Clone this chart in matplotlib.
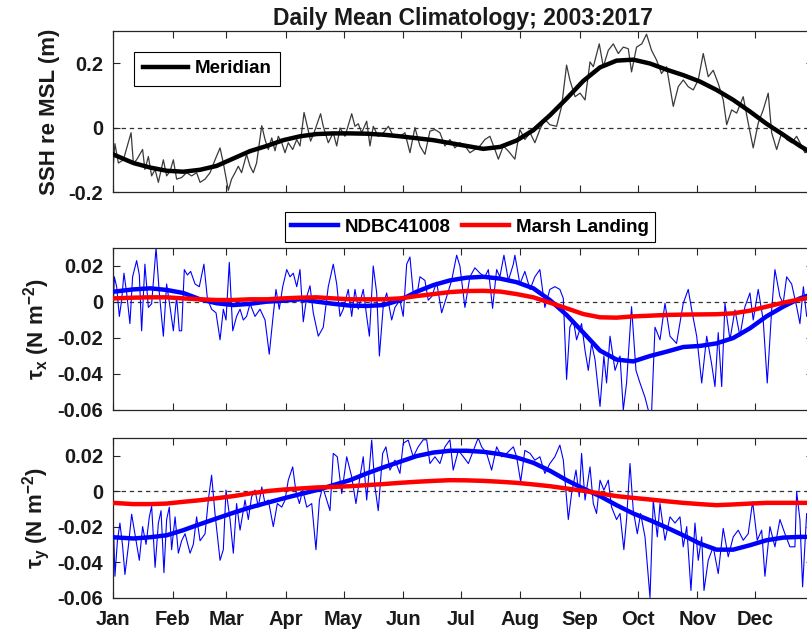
import matplotlib
matplotlib.use("Agg")
import matplotlib.pyplot as plt

plt.rcParams['font.family'] = ['Liberation Sans', 'DejaVu Sans']
plt.rcParams['font.weight'] = 'bold'
plt.rcParams['mathtext.fontset'] = 'custom'
plt.rcParams['mathtext.rm'] = 'Liberation Sans'
plt.rcParams['mathtext.bf'] = 'Liberation Sans:bold'
plt.rcParams['mathtext.it'] = 'Liberation Sans:italic'

# ---------------- data ----------------
month_days = [1, 32, 60, 91, 121, 152, 182, 213, 244, 274, 305, 335]
month_labels = ['Jan', 'Feb', 'Mar', 'Apr', 'May', 'Jun', 'Jul', 'Aug', 'Sep', 'Oct', 'Nov', 'Dec']

ssh_days = [1, 2, 3.8, 6.4, 10.4, 11.6, 13.3, 16.4, 17.6, 19.4, 21.1, 22.9, 24.6, 27.2, 28.9,
            30.7, 32.4, 34.1, 36.7, 39.3, 41.9, 44.5, 46.3, 48.9, 51.5, 54.1, 56.7, 58.4, 61, 62.7,
            64.5, 66.2, 67.9, 70.5, 72.3, 74, 75.7, 78.4, 80.1, 81.8, 83.6, 85.3, 87, 88.8, 90.5,
            92.2, 94.5, 96.6, 98.3, 100.4, 102.1, 103.8, 105.6, 109, 110.4, 113, 115.6, 117.4, 119.1,
            121.7, 125.2, 126.9, 128.6, 130.4, 133, 134.7, 136.4, 139, 141.7, 144.3, 146.9, 149.5,
            150.3, 152.9, 155.5, 158.1, 160.7, 163.3, 165.9, 168.5, 171.1, 173.7, 176.3, 178.9, 181.5,
            184.1, 186.7, 189.3, 191.9, 194.5, 197.1, 199.7, 201.5, 204.1, 206.7, 210.1, 212.7, 215.3,
            218, 220.5, 223.1, 225.7, 228.3, 231.8, 234.4, 237, 238.7, 241.4, 244, 246.6, 249.2, 250.9,
            254, 256.1, 258.7, 261.3, 263.9, 266.5, 269.1, 270.8, 273.4, 276.1, 278.6, 281.2, 283.8,
            286.4, 289, 292.5, 295.1, 297.7, 300.3, 302.9, 305.5, 308.1, 310.7, 313.3, 315.9, 318.5,
            320.3, 322.9, 325.5, 328.9, 331.5, 334.1, 336.7, 339.3, 341.9, 343.7, 346.3, 348.9, 351.5,
            354.1, 356.7, 359.3, 361, 365]
ssh_daily = [-0.13, -0.05, -0.11, -0.10, -0.016, -0.11, -0.10, -0.068, -0.13, -0.09, -0.15, -0.13,
             -0.17, -0.10, -0.15, -0.135, -0.10, -0.16, -0.155, -0.14, -0.15, -0.14, -0.17, -0.16,
             -0.14, -0.10, -0.063, -0.11, -0.195, -0.16, -0.14, -0.12, -0.14, -0.083, -0.12, -0.14,
             -0.11, 0.006, -0.037, -0.068, -0.032, -0.072, -0.027, -0.047, -0.078, -0.047, -0.068,
             -0.037, -0.057, 0.047, 0.004, -0.042, -0.016, 0.043, 0.004, -0.047, -0.016, -0.057,
             -0.001, -0.027, 0.043, 0.004, 0.012, -0.016, 0.02, -0.057, 0.004, -0.027, -0.016, 0.004,
             -0.027, -0.027,
             -0.027, -0.016, -0.078, 0.0, -0.057, -0.083, -0.011, -0.006, -0.016, -0.057, -0.037,
             -0.063, -0.047, -0.057, -0.078, -0.068, -0.057, -0.037, -0.027, -0.068, -0.098, -0.057,
             -0.073, -0.098, -0.006, -0.037, -0.016, -0.047, -0.006, 0.025, 0.009, 0.004, 0.066,
             0.194, 0.148, 0.096, 0.107, 0.086, 0.204, 0.189, 0.26, 0.189, 0.24, 0.26, 0.23, 0.25,
             0.245, 0.173, 0.25, 0.26, 0.29, 0.24, 0.21, 0.168, 0.189, 0.066, 0.127, 0.148, 0.127,
             0.117, 0.148, 0.23, 0.158, 0.178, 0.137, 0.086, 0.009, 0.055, 0.045, 0.096, 0.014,
             -0.063, 0.014, 0.055, 0.107, -0.016, -0.068, -0.016, -0.037, -0.047, -0.027, -0.057,
             -0.078, -0.07]

ssh_smooth_days = [1, 11.6, 20.3, 28.9, 37.6, 46.3, 54.9, 63.6, 72.3, 81, 89.6, 98.3, 107, 115.6,
                   124.3, 133, 141.6, 150.3, 167.7, 185, 193.7, 202.4, 211, 219.7, 228.3, 237,
                   245.7, 254.4, 263, 271.7, 280.4, 289, 297.7, 306.4, 315, 323.7, 332.4, 341,
                   349.7, 358.4, 365]
ssh_smooth = [-0.083, -0.11, -0.124, -0.134, -0.137, -0.131, -0.119, -0.096, -0.073, -0.057,
              -0.039, -0.027, -0.02, -0.018, -0.018, -0.019, -0.022, -0.027, -0.039, -0.057,
              -0.066, -0.06, -0.04, -0.008, 0.038, 0.09, 0.145, 0.187, 0.208, 0.211, 0.199, 0.18,
              0.163, 0.143, 0.117, 0.086, 0.05, 0.012, -0.022, -0.057, -0.08]

taux_days = [1, 1.7, 2.9, 4.3, 5.5, 6.7, 8.1, 9.8, 11.2, 13.3, 14.7, 15.9, 17.6, 19.4, 21.1, 23.4,
             25.1, 27.2, 28.9, 30.7, 32.4, 34.1, 35.5, 36.7, 38.1, 39.7, 41.4, 43.7, 45.9, 48.3,
             50.1, 52.3, 54.6, 56.7, 58.4, 59.8, 61.5, 63.3, 65.3, 67.1, 68.8, 70.5, 72.3, 74.9,
             77.5, 80.1, 82.3, 84.1, 85.8, 87.5, 89.3, 91.4, 93.1, 94.8, 96.6, 98.3, 100, 101.8,
             103.5, 105.2, 107.8, 110.4, 113, 115.6, 117.4, 119.1, 120.8, 123.4, 125.2, 126.9,
             128.6, 131.2, 133, 134.4, 136.4, 138.2, 139.6, 141.7, 143.4, 146, 147.7,
             150.3, 152, 153.8, 155.5, 157.2, 159, 160.7, 163.3, 165, 166.8, 169.4, 172, 174.6,
             177.2, 179.8, 181.5, 184.1, 186.7, 189.3, 191.9, 194.5, 196.3, 198.5, 200.6, 202.3,
             204.4, 206.7, 209.3, 210.1, 212.7, 215.3, 218, 220.5, 223.1, 225.7, 228.3, 230.9,
             233.5, 235.3, 237, 238.7, 240.5, 242.2, 244.8, 246.6, 248.3, 250, 251.8, 254.4, 256.4,
             257.8, 259.6, 262.2, 264.8, 266.5, 268.2, 270.8, 273.1, 275.2, 277.8, 279.5, 281.2,
             283, 285.6, 288.2, 290.8, 294.2, 297.7, 300.3, 302.1, 304.7, 307.3, 309.9, 312.4,
             314.2, 315.9, 317.7, 319.4, 322, 324.6, 327.2, 329.8, 332.4, 334.1, 336.7, 339.3,
             341.4, 343.7, 345.4, 348, 349.7, 351.5, 354.1, 356.7, 358.4, 360.2, 361.9, 365]
taux_daily = [-0.006, 0.014, 0.0085, -0.008, 0.001, 0.016, 0.005, -0.012, 0.014, 0.023, 0.015,
              -0.016, 0.021, -0.003, -0.001, 0.03, 0.005, -0.019, 0.01, -0.003, -0.016, 0.003,
              -0.016, -0.016, 0.018, 0.015, 0.017, 0.01, 0.0085, 0.021, 0.002, -0.004, -0.006,
              -0.021, -0.004, -0.01, 0.022, -0.016, -0.008, -0.004, -0.01, -0.008, -0.001, -0.008,
              -0.004, -0.01, -0.029, -0.01, 0.007, -0.004, 0.0085, 0.018, 0.014, 0.016, 0.0085,
              0.018, -0.011, 0.003, 0.009, -0.006, -0.019, -0.014, 0.0085, 0.021, 0.01, -0.008,
              -0.004, 0.007, -0.008, 0.007, -0.004, 0.007, -0.008, -0.019, 0.02, 0.005, -0.03,
              -0.001, 0.005, -0.01, -0.003,
              0.001, -0.008, 0.021, 0.025, 0.005, 0.003, 0.014, 0.012, 0.001, 0.003, 0.011, -0.006,
              0.003, 0.012, 0.026, 0.02, -0.003, 0.014, 0.019, 0.016, 0.014, 0.018, -0.0035, 0.018,
              0.014, 0.026, 0.012, 0.021, 0.026, 0.01, 0.017, 0.007, 0.014, 0.018, -0.003, 0.007,
              0.0085, 0.007, 0.002, -0.043, -0.014, -0.01, -0.021, -0.012, -0.027, -0.038, -0.023,
              -0.032, -0.058, -0.03, -0.045, -0.019, -0.038, -0.03, -0.06, -0.045, -0.0026, -0.038,
              -0.045, -0.053, -0.06, -0.062, -0.014, -0.021, -0.0007, -0.019, -0.023, -0.0007,
              0.007, -0.0044, -0.019, -0.045, -0.019, -0.034, -0.047, -0.017, -0.047, -0.0007,
              -0.021, -0.0044, -0.019, -0.0026, 0.005, -0.01, 0.007, -0.01, -0.045, -0.0044, 0.018,
              0.003, -0.0007, 0.014, 0.01, -0.0026, -0.012, 0.0085, -0.008, 0.002]

smooth_days = [1, 11.6, 20.3, 28.9, 37.6, 46.3, 54.9, 63.6, 72.3, 81, 89.6, 98.3, 107, 115.6,
               124.3, 133, 141.6, 150.3, 159, 167.7, 176.3, 185, 193.7, 202.4, 211, 219.7, 228.4,
               237, 245.7, 254.4, 263, 271.7, 280.4, 289, 297.7, 306.4, 315, 323.7, 332.4, 341,
               349.7, 358.4, 365]
taux_buoy_smooth = [0.0057, 0.007, 0.0076, 0.0067, 0.005, 0.0015, -0.0007, -0.0017, -0.001,
                    0.0002, 0.0007, 0.0015, 0.0002, -0.001, -0.002, -0.0022, -0.0017, 0.001,
                    0.0057, 0.0094, 0.012, 0.0135, 0.014, 0.013, 0.011, 0.0076, 0.001, -0.0072,
                    -0.017, -0.027, -0.032, -0.033, -0.030, -0.0276, -0.025, -0.0244, -0.023,
                    -0.020, -0.0146, -0.008, -0.0026, 0.002, 0.0045]
taux_marsh_smooth = [0.002, 0.0024, 0.0026, 0.0026, 0.002, 0.0015, 0.0011, 0.0011, 0.0015, 0.0015,
                     0.002, 0.0024, 0.0026, 0.002, 0.0015, 0.0015, 0.0015, 0.002, 0.0033, 0.0044,
                     0.0055, 0.0061, 0.0062, 0.0058, 0.0044, 0.0026, -0.0004, -0.0035, -0.0067,
                     -0.0085, -0.0087, -0.008, -0.0076, -0.0072, -0.0070, -0.0069, -0.0068,
                     -0.0063, -0.0048, -0.0026, -0.0004, 0.0015, 0.0026]

tauy_days = [1, 2, 3.3, 4.6, 6, 7.2, 9, 10.7, 12.4, 14.7, 16.4, 18.2, 19.9, 21.1, 22.9, 24.6, 26,
             27.5, 28.9, 30.3, 31.5, 33.3, 35, 36.7, 38.5, 41.1, 42.8, 44.5, 46.3, 48.9, 50.6,
             52.3, 54.1, 56.7, 58.4, 59.8, 61.9, 63.6, 65.3, 67.1, 69.7, 71.4, 73.1, 74.9, 76.6,
             78.4, 80.1, 81.8, 84.4, 86.5, 88.8, 90.5, 92.2, 94.5, 96.2, 98, 99.7, 101.8, 104.4,
             106.6, 108.4, 110.1, 112.2, 113.9, 115.6, 117.7, 120, 122.6, 125.2, 127.4, 129.5,
             131.2, 133, 135.6, 137.3, 139, 141.3, 143, 145.1, 147.7, 150.3,
             152, 154.6, 157.2, 159.8, 162.4, 164.2, 165.9, 168.5, 171.1, 173.7, 176.3, 178, 180.7,
             183.3, 185.9, 188.5, 191, 192.8, 195.4, 198, 200.6, 203.2, 205.8, 209.3, 211, 213.1,
             215.3, 218, 220.5, 223.1, 225.7, 228.3, 230.9, 233.5, 235.3, 237.9, 239.6, 241.9,
             243.6, 244.8, 246.6, 249.2, 250.9, 252.6, 254.4, 256.4, 258.7, 260.4, 263, 264.8,
             266.8, 268.2, 270, 271.7, 273.8, 275.5, 277.8, 280.4, 282.1, 284.2, 285.6, 288.2,
             290.8, 293.4, 296, 297.7, 299.5, 301.7, 303.8, 305.5, 307.3, 308.5, 310.7, 313.3,
             315.9, 318.5, 321.1, 323.7, 326.3, 328.9, 331.5, 333.8, 336.2, 338.5, 340.2, 342.8,
             345.4, 348, 350.6, 353.2, 355.8, 356.7, 358.4, 359.8, 361.9, 365]
tauy_daily = [-0.011, -0.048, -0.028, -0.018, -0.031, -0.047, -0.031, -0.013, -0.024, -0.039,
              -0.020, -0.030, -0.0145, -0.0085, -0.043, -0.018, -0.011, -0.046, -0.016, -0.009,
              -0.033, -0.0145, -0.035, -0.028, -0.024, -0.035, -0.030, -0.0145, -0.028, -0.024,
              -0.005, 0.009, -0.013, -0.039, -0.033, 0.0006, -0.016, -0.035, -0.007, -0.022,
              -0.005, -0.016, -0.0032, 0.0006, -0.009, 0.0024, -0.007, -0.005, -0.020, -0.007,
              -0.009, -0.005, 0.0062, 0.0137, -0.0004, -0.007, 0.0006, -0.009, -0.007, -0.033,
              -0.005, 0.0024, -0.005, -0.011, 0.0213, 0.0194, -0.0013, 0.0194, 0.0081, -0.007,
              0.0081, 0.0194, -0.005, 0.0288, 0.0024, -0.011, 0.0213, 0.025, 0.0119, 0.0175, 0.010,
              0.027, 0.0288, 0.0194, 0.025, 0.029, 0.029, 0.0156, 0.0194, 0.0156, 0.025, 0.029,
              0.0119, 0.023, 0.0194, 0.0156, 0.023, 0.03, 0.025, 0.0213, 0.0119, 0.025, 0.0194,
              0.0213, 0.025, 0.0194, 0.0053, 0.023, 0.0213, 0.0175, 0.0194, 0.010, 0.0156, 0.0194,
              0.026, 0.0175, -0.016, -0.0013, 0.0119, -0.0032, 0.0213, -0.005, 0.0137, -0.007,
              -0.0126, 0.0062, 0.0006, 0.0062, -0.009, -0.016, -0.0126, -0.033, -0.016, 0.0156,
              -0.011, -0.024, -0.0126, -0.0258, -0.06, -0.005, -0.0258, -0.007, -0.0277, -0.0145,
              -0.018, -0.0145, -0.0314, -0.020, -0.056, -0.018, -0.039, -0.0258, -0.056, -0.039,
              -0.0314, -0.0465, -0.021, -0.037, -0.0258, -0.022, -0.0277, -0.024, -0.006, -0.0277,
              -0.022, -0.048, -0.020, -0.0314, -0.016, -0.024, -0.0314, -0.0314, -0.0004, -0.016,
              -0.054, -0.0126, -0.02]

tauy_buoy_smooth = [-0.026, -0.0267, -0.026, -0.0249, -0.022, -0.0186, -0.0154, -0.0122, -0.0092,
                    -0.0066, -0.0041, -0.0017, 0.0006, 0.0034, 0.0062, 0.010, 0.0134, 0.0166,
                    0.0198, 0.0218, 0.0228, 0.0228, 0.0222, 0.0209, 0.019, 0.016, 0.0115, 0.0062,
                    0.0015, -0.0028, -0.0079, -0.0126, -0.0164, -0.0205, -0.0249, -0.0296, -0.033,
                    -0.033, -0.0305, -0.0277, -0.0262, -0.0258, -0.0258]
tauy_marsh_smooth = [-0.0066, -0.0073, -0.0073, -0.007, -0.006, -0.0051, -0.004, -0.0028, -0.0013,
                     0.0, 0.0009, 0.0015, 0.0021, 0.0024, 0.0028, 0.0034, 0.004, 0.0047, 0.0053,
                     0.0058, 0.0062, 0.0061, 0.0058, 0.0053, 0.0047, 0.0038, 0.0028, 0.0015,
                     0.0002, -0.0013, -0.0028, -0.0038, -0.0047, -0.0057, -0.0066, -0.0073,
                     -0.0079, -0.0075, -0.0070, -0.0066, -0.0066, -0.0066, -0.0066]

# ---------------- figure ----------------
W, H = 807, 635
fig = plt.figure(figsize=(W / 100, H / 100), dpi=100)
TXT = '#1a1a1a'
AXC = '#262626'

def px_axes(left, top, right, bottom):
    return fig.add_axes([left / W, 1 - bottom / H, (right - left) / W, (bottom - top) / H])

ax1 = px_axes(113, 31, 812.6, 192)
ax2 = px_axes(113, 248, 812.6, 410)
ax3 = px_axes(113, 438, 812.6, 597.5)

for ax in (ax1, ax2, ax3):
    ax.set_xlim(1, 365)
    ax.axhline(0, color='#333333', lw=0.9, ls=(0, (3.5, 3)), zorder=1)
    ax.set_xticks(month_days)
    ax.tick_params(direction='in', top=True, right=True, length=5, width=0.8,
                   labelsize=14.5, colors=AXC, labelcolor=TXT, pad=7)
    for sp in ax.spines.values():
        sp.set_linewidth(0.9)
        sp.set_color(AXC)
    for lab in ax.get_xticklabels() + ax.get_yticklabels():
        lab.set_fontweight('bold')

ax1.set_xticklabels([])
ax2.set_xticklabels([])
ax3.set_xticklabels(month_labels, fontweight='bold')
ax3.tick_params(axis='x', pad=9)

# Panel 1
ax1.plot(ssh_days, ssh_daily, color='#3a3a3a', lw=0.9, zorder=2)
l1, = ax1.plot(ssh_smooth_days, ssh_smooth, color='black', lw=3.2, zorder=3, label='Meridian')
ax1.set_ylim(-0.2, 0.3)
ax1.set_yticks([-0.2, 0, 0.2])
ax1.set_yticklabels(['-0.2', '0', '0.2'], fontweight='bold')
ax1.set_ylabel('SSH re MSL (m)', fontsize=16, fontweight='bold', color=TXT, labelpad=6)
ax1.set_title('Daily Mean Climatology; 2003:2017', fontsize=16.5, fontweight='bold',
              color=TXT, pad=4)
leg1 = ax1.legend(handles=[l1], loc='center',
                  bbox_to_anchor=((134 + 280) / 2 / W, 1 - 68.5 / H),
                  bbox_transform=fig.transFigure, fontsize=13.5, frameon=True,
                  fancybox=False, edgecolor='black', framealpha=1, handlelength=2.4,
                  handletextpad=0.35, borderpad=0.45)
leg1.get_frame().set_linewidth(0.8)
for t in leg1.get_texts():
    t.set_fontweight('bold')

# Panel 2
ax2.plot(taux_days, taux_daily, color='blue', lw=0.8, zorder=2)
b2, = ax2.plot(smooth_days, taux_buoy_smooth, color='blue', lw=3.2, zorder=3, label='NDBC41008')
r2, = ax2.plot(smooth_days, taux_marsh_smooth, color='red', lw=3.2, zorder=4, label='Marsh Landing')
ax2.set_ylim(-0.06, 0.03)
ax2.set_yticks([-0.06, -0.04, -0.02, 0, 0.02])
ax2.set_yticklabels(['-0.06', '-0.04', '-0.02', '0', '0.02'], fontweight='bold')
ax2.set_ylabel(r'$\mathrm{\tau}_{\mathbf{x}}$ (N m$^{\mathbf{-2}}$)', fontsize=16,
               fontweight='bold', color=TXT, labelpad=4)
leg2 = ax2.legend(handles=[b2, r2], loc='center', ncol=2,
                  bbox_to_anchor=((281 + 659) / 2 / W, 1 - 227 / H),
                  bbox_transform=fig.transFigure, fontsize=13.5, frameon=True,
                  fancybox=False, edgecolor='black', framealpha=1, handlelength=2.5,
                  handletextpad=0.35, columnspacing=0.6, borderpad=0.35)
leg2.get_frame().set_linewidth(0.8)
for t in leg2.get_texts():
    t.set_fontweight('bold')

# Panel 3
ax3.plot(tauy_days, tauy_daily, color='blue', lw=0.8, zorder=2)
ax3.plot(smooth_days, tauy_buoy_smooth, color='blue', lw=3.2, zorder=3)
ax3.plot(smooth_days, tauy_marsh_smooth, color='red', lw=3.2, zorder=4)
ax3.set_ylim(-0.06, 0.03)
ax3.set_yticks([-0.06, -0.04, -0.02, 0, 0.02])
ax3.set_yticklabels(['-0.06', '-0.04', '-0.02', '0', '0.02'], fontweight='bold')
ax3.set_ylabel(r'$\mathrm{\tau}_{\mathbf{y}}$ (N m$^{\mathbf{-2}}$)', fontsize=16,
               fontweight='bold', color=TXT, labelpad=4)

fig.savefig('out.png', dpi=100)
